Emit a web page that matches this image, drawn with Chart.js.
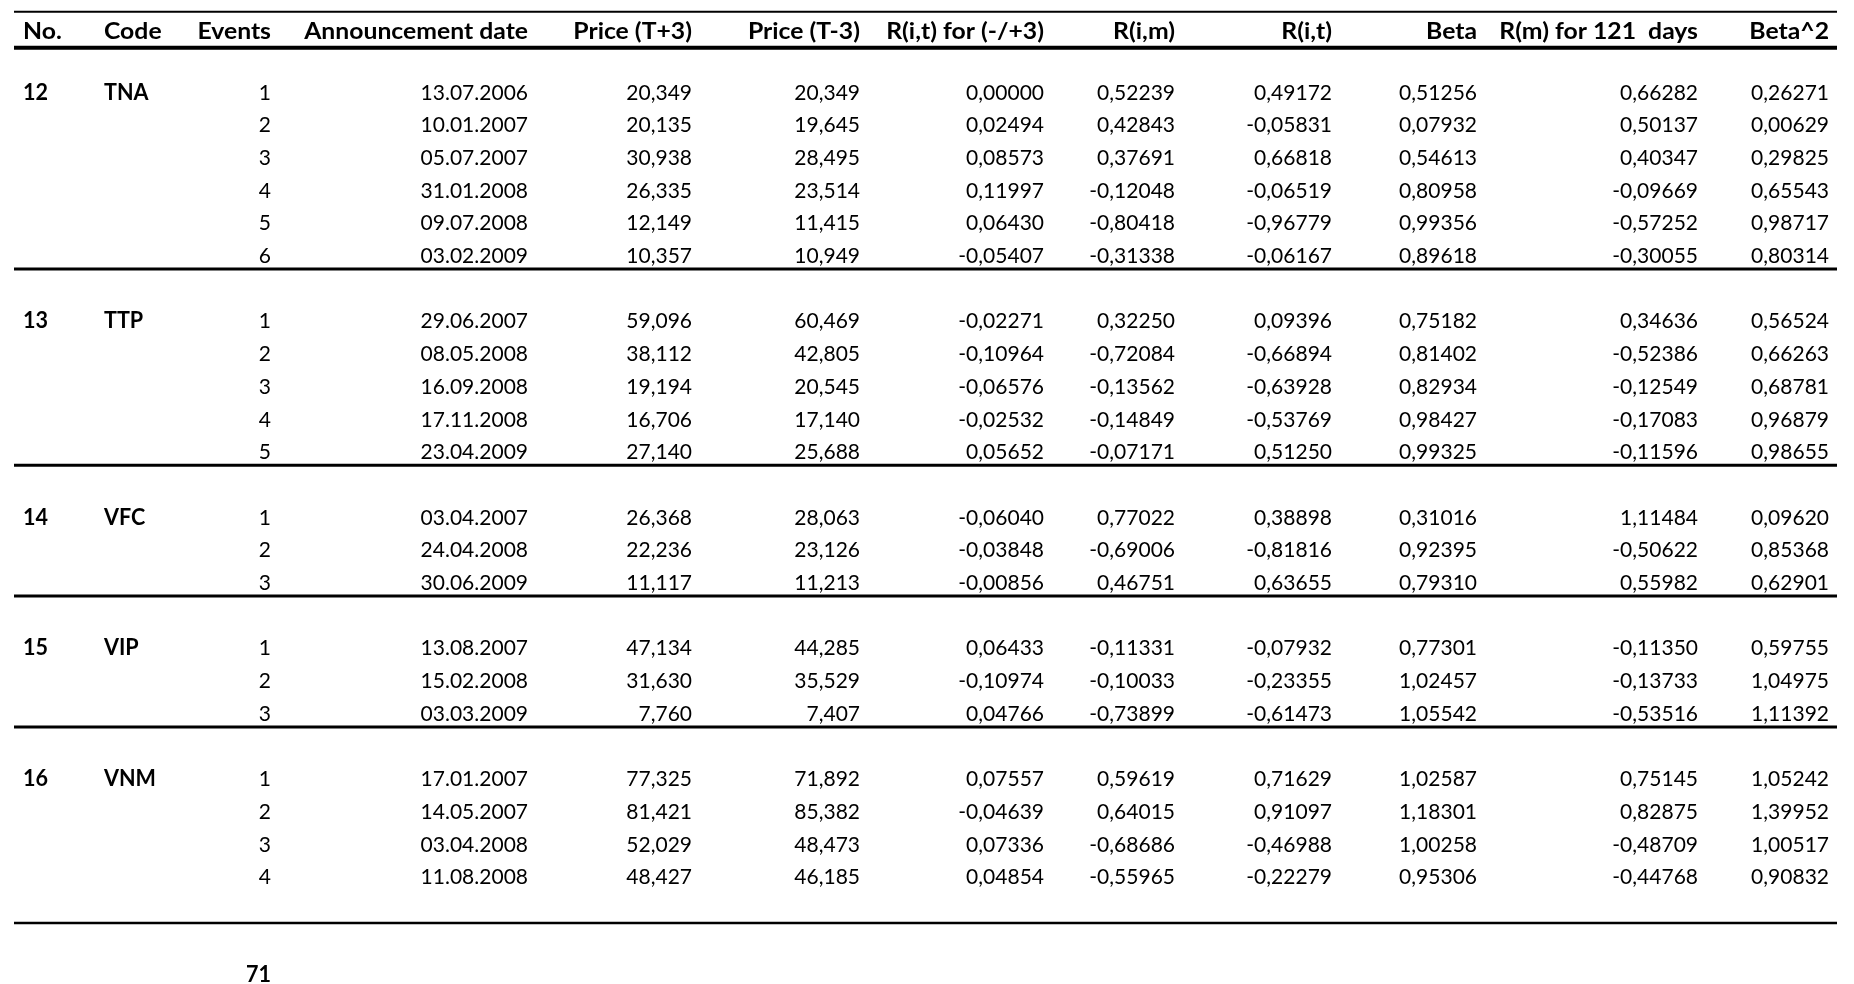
<!DOCTYPE html>
<html lang="en">
<head>
  <meta charset="UTF-8">
  <title>Event study table</title>
  <script src="https://cdn.jsdelivr.net/npm/chart.js"></script>
  <style>
    html, body { margin: 0; padding: 0; background: #fff; }
    canvas { display: block; }
  </style>
</head>
<body>
  <canvas id="eventTable" width="1854" height="984"></canvas>

  <script>
    // table data
    const headers = ['No.', 'Code', 'Events', 'Announcement date', 'Price (T+3)', 'Price (T-3)',
      'R(i,t) for (-/+3)', 'R(i,m)', 'R(i,t)', 'Beta', 'R(m) for 121  days', 'Beta^2'];
    const stockNo = [12, 13, 14, 15, 16];
    const stockCodes = ['TNA', 'TTP', 'VFC', 'VIP', 'VNM'];
    const eventCounts = [6, 5, 3, 3, 4];
    const totalEvents = 71;

    const announcementDates = [
      '13.07.2006', '10.01.2007', '05.07.2007', '31.01.2008', '09.07.2008', '03.02.2009',
      '29.06.2007', '08.05.2008', '16.09.2008', '17.11.2008', '23.04.2009',
      '03.04.2007', '24.04.2008', '30.06.2009',
      '13.08.2007', '15.02.2008', '03.03.2009',
      '17.01.2007', '14.05.2007', '03.04.2008', '11.08.2008'];
    const priceAfter = [20.349, 20.135, 30.938, 26.335, 12.149, 10.357,
      59.096, 38.112, 19.194, 16.706, 27.140,
      26.368, 22.236, 11.117,
      47.134, 31.630, 7.760,
      77.325, 81.421, 52.029, 48.427];
    const priceBefore = [20.349, 19.645, 28.495, 23.514, 11.415, 10.949,
      60.469, 42.805, 20.545, 17.140, 25.688,
      28.063, 23.126, 11.213,
      44.285, 35.529, 7.407,
      71.892, 85.382, 48.473, 46.185];
    const returnEvent = [0.00000, 0.02494, 0.08573, 0.11997, 0.06430, -0.05407,
      -0.02271, -0.10964, -0.06576, -0.02532, 0.05652,
      -0.06040, -0.03848, -0.00856,
      0.06433, -0.10974, 0.04766,
      0.07557, -0.04639, 0.07336, 0.04854];
    const returnIM = [0.52239, 0.42843, 0.37691, -0.12048, -0.80418, -0.31338,
      0.32250, -0.72084, -0.13562, -0.14849, -0.07171,
      0.77022, -0.69006, 0.46751,
      -0.11331, -0.10033, -0.73899,
      0.59619, 0.64015, -0.68686, -0.55965];
    const returnIT = [0.49172, -0.05831, 0.66818, -0.06519, -0.96779, -0.06167,
      0.09396, -0.66894, -0.63928, -0.53769, 0.51250,
      0.38898, -0.81816, 0.63655,
      -0.07932, -0.23355, -0.61473,
      0.71629, 0.91097, -0.46988, -0.22279];
    const beta = [0.51256, 0.07932, 0.54613, 0.80958, 0.99356, 0.89618,
      0.75182, 0.81402, 0.82934, 0.98427, 0.99325,
      0.31016, 0.92395, 0.79310,
      0.77301, 1.02457, 1.05542,
      1.02587, 1.18301, 1.00258, 0.95306];
    const marketReturn121 = [0.66282, 0.50137, 0.40347, -0.09669, -0.57252, -0.30055,
      0.34636, -0.52386, -0.12549, -0.17083, -0.11596,
      1.11484, -0.50622, 0.55982,
      -0.11350, -0.13733, -0.53516,
      0.75145, 0.82875, -0.48709, -0.44768];
    const betaSquared = [0.26271, 0.00629, 0.29825, 0.65543, 0.98717, 0.80314,
      0.56524, 0.66263, 0.68781, 0.96879, 0.98655,
      0.09620, 0.85368, 0.62901,
      0.59755, 1.04975, 1.11392,
      1.05242, 1.39952, 1.00517, 0.90832];

    // layout: column anchors on the x scale, left or right aligned
    const colAnchor = [23, 104, 271, 528, 692, 860, 1044, 1175, 1332, 1477, 1698, 1829];
    const colAlign = ['left', 'left', 'right', 'right', 'right', 'right', 'right', 'right', 'right', 'right', 'right', 'right'];
    const ruleLeft = 14, ruleRight = 1837;
    const FONT = '"Lato", sans-serif';
    const SIZE = 22;
    // Lato is a little wider than the Calibri of the original, its bold a little narrower
    const SQUEEZE = { regular: 0.955, bold: 0.98, header: 1.125 };

    const fmt = (v, d) => v.toFixed(d).replace('.', ',');

    // build rows (y = row index) from the group structure
    const cells = [];   // {col, row, text, style}
    const rules = [];   // {row, width}
    rules.push({ row: -2.471, width: 2 });
    rules.push({ row: -1.37, width: 4 });
    headers.forEach((h, c) => cells.push({ col: c, row: -1.859, text: h, style: 'header' }));

    let row = 0, k = 0;
    eventCounts.forEach((n, g) => {
      cells.push({ col: 0, row: row, text: String(stockNo[g]), style: 'bold' });
      cells.push({ col: 1, row: row, text: stockCodes[g], style: 'bold' });
      for (let e = 0; e < n; e++, k++, row++) {
        const vals = [String(e + 1), announcementDates[k], fmt(priceAfter[k], 3), fmt(priceBefore[k], 3),
          fmt(returnEvent[k], 5), fmt(returnIM[k], 5), fmt(returnIT[k], 5), fmt(beta[k], 5),
          fmt(marketReturn121[k], 5), fmt(betaSquared[k], 5)];
        vals.forEach((t, i) => cells.push({ col: i + 2, row: row, text: t, style: 'regular' }));
      }
      if (g < eventCounts.length - 1) {
        rules.push({ row: row - 1 + 0.4, width: 3 });
        row += 1;
      } else {
        rules.push({ row: row + 0.4, width: 2.5 });
        row += 2;
      }
    });
    cells.push({ col: 2, row: row, text: String(totalEvents), style: 'bold' });

    const ruleSets = rules.map(r => ({
      data: [{ x: ruleLeft, y: r.row }, { x: ruleRight, y: r.row }],
      showLine: true,
      borderColor: '#000',
      borderWidth: r.width,
      pointRadius: 0,
      borderCapStyle: 'butt'
    }));

    const cellText = {
      id: 'cellText',
      afterDatasetsDraw(chart) {
        const { ctx, scales: { x, y } } = chart;
        ctx.fillStyle = '#000';
        ctx.textBaseline = 'middle';
        cells.forEach(c => {
          ctx.save();
          ctx.font = (c.style === 'regular' ? '' : 'bold ') + SIZE + 'px ' + FONT;
          ctx.textAlign = colAlign[c.col];
          ctx.translate(x.getPixelForValue(colAnchor[c.col]), y.getPixelForValue(c.row));
          ctx.scale(SQUEEZE[c.style], 1);
          ctx.fillText(c.text, 0, 0);
          ctx.restore();
        });
      }
    };

    const ctx = document.getElementById('eventTable').getContext('2d');
    new Chart(ctx, {
      type: 'scatter',
      data: { datasets: ruleSets },
      options: {
        responsive: false,
        animation: false,
        devicePixelRatio: 1,
        layout: { padding: 0 },
        plugins: { legend: { display: false }, tooltip: { enabled: false } },
        scales: {
          x: { type: 'linear', min: 0, max: 1854, display: false },
          y: { type: 'linear', min: -2.829, max: 27.263, reverse: true, display: false }
        }
      },
      plugins: [cellText]
    });
  </script>
</body>
</html>
